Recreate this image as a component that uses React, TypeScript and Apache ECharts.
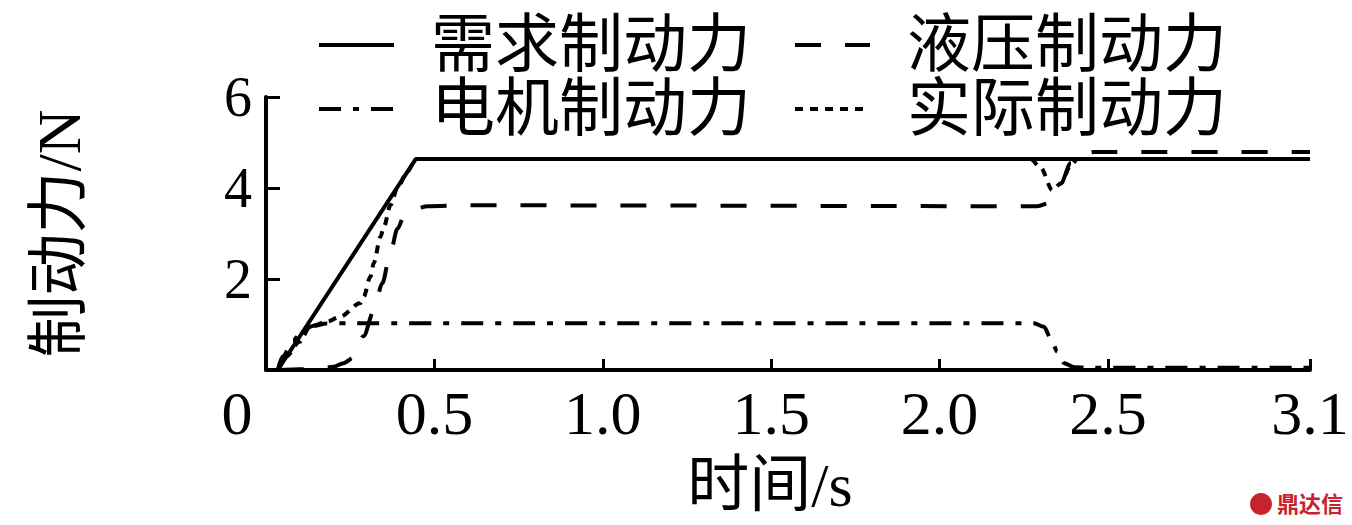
import React, { useEffect, useRef } from "react";
import * as echarts from "echarts";

const seriesNames = ["需求制动力", "液压制动力", "电机制动力", "实际制动力"];

const demandT = [0.035, 0.445, 3.1];
const demandV = [0, 4.64, 4.64];

const hydraulicT = [0.035, 0.15, 0.2, 0.23, 0.26, 0.29, 0.32, 0.345, 0.37, 0.39, 0.41, 0.44, 0.48, 0.6, 2.29, 2.33, 2.36, 2.39, 2.42, 2.46, 3.1];
const hydraulicV = [0, 0.02, 0.07, 0.15, 0.27, 0.75, 1.3, 1.9, 2.6, 3.1, 3.38, 3.54, 3.6, 3.62, 3.6, 3.68, 4.1, 4.55, 4.74, 4.79, 4.79];

const motorT = [0.035, 0.05, 0.08, 0.11, 0.14, 0.18, 0.25, 2.28, 2.31, 2.33, 2.35, 2.37, 2.4, 2.45, 3.1];
const motorV = [0, 0.3, 0.65, 0.87, 0.97, 1.02, 1.03, 1.03, 0.95, 0.7, 0.4, 0.15, 0.06, 0.05, 0.05];

const actualT = [0.035, 0.06, 0.1, 0.13, 0.18, 0.22, 0.28, 0.29, 0.31, 0.32, 0.34, 0.35, 0.37, 0.39, 0.42, 0.445, 2.27, 2.3, 2.335, 2.36, 2.39, 2.41, 3.1];
const actualV = [0, 0.3, 0.62, 0.95, 1.06, 1.17, 1.47, 1.61, 2.05, 2.35, 2.93, 3.15, 3.63, 4.0, 4.36, 4.64, 4.64, 4.45, 3.95, 4.1, 4.5, 4.64, 4.64];

const xLabelValues = [0, 0.5, 1.0, 1.5, 2.0, 2.5, 3.1];
const xTickValues = [0.5, 1.0, 1.5, 2.0, 2.5, 3.1];
const yLabelValues = [2, 4, 6];
const yTickValues = [2, 4, 6];

const zip = (t: number[], v: number[]) => t.map((x, i) => [x, v[i]]);

const serif = '"Liberation Serif", "Noto Sans CJK SC", serif';

export default function App() {
  const ref = useRef<HTMLDivElement>(null);
  useEffect(() => {
    if (!ref.current) return;
    const chart = echarts.init(ref.current, undefined, { renderer: "svg" });
    const styles: any[] = [
      { type: "solid", width: 4 },
      { type: [26, 24], width: 4 },
      { type: [22, 12, 6, 12], width: 4 },
      { type: [8, 7], width: 4 },
    ];
    const datas = [zip(demandT, demandV), zip(hydraulicT, hydraulicV), zip(motorT, motorV), zip(actualT, actualV)];
    const legendCommon = {
      left: 312,
      itemWidth: 75,
      itemHeight: 20,
      itemGap: 42,
      itemStyle: { opacity: 0, color: "transparent", borderWidth: 0 },
      lineStyle: { width: 4 },
      textStyle: { fontSize: 64, fontFamily: serif, color: "#000", padding: [0, 0, 0, 32] },
    };
    chart.setOption({
      animation: false,
      backgroundColor: "#fff",
      legend: [
        { ...legendCommon, top: 8, data: [seriesNames[0], seriesNames[1]] },
        { ...legendCommon, top: 72, data: [seriesNames[2], seriesNames[3]] },
      ],
      grid: { left: 266, right: 42, top: 97, bottom: 155, containLabel: false, outerBoundsMode: "none" },
      xAxis: {
        type: "value",
        min: 0,
        max: 3.1,
        name: "时间/s",
        nameLocation: "middle",
        nameGap: 84,
        nameTextStyle: { fontSize: 62, fontFamily: serif, color: "#000", padding: [0, 36, 0, 0] },
        axisLine: { lineStyle: { color: "#000", width: 4 } },
        axisTick: { inside: true, length: 11, lineStyle: { color: "#000", width: 3 }, customValues: xTickValues },
        axisLabel: {
          customValues: xLabelValues,
          margin: 12,
          fontSize: 62,
          fontFamily: serif,
          color: "#000",
          formatter: (v: number) => (v === 0 ? "{z|0}" : v.toFixed(1)),
          rich: { z: { fontSize: 62, fontFamily: serif, color: "#000", padding: [0, 58, 0, 0] } },
        },
        splitLine: { show: false },
      },
      yAxis: {
        type: "value",
        min: 0,
        max: 6,
        name: "制动力/N",
        nameLocation: "middle",
        nameGap: 176,
        nameTextStyle: { fontSize: 62, fontFamily: serif, color: "#000" },
        axisLine: { lineStyle: { color: "#000", width: 4 } },
        axisTick: { inside: true, length: 14, lineStyle: { color: "#000", width: 3 }, customValues: yTickValues },
        axisLabel: { customValues: yLabelValues, margin: 14, fontSize: 56, fontFamily: serif, color: "#000" },
        splitLine: { show: false },
      },
      series: seriesNames.map((n, i) => ({
        name: n,
        type: "line",
        data: datas[i],
        symbol: "none",
        showSymbol: false,
        smooth: i === 0 ? false : 0.3,
        smoothMonotone: "x",
        lineStyle: { color: "#000", ...styles[i] },
        itemStyle: { color: "#000" },
        z: 10 - i,
      })),
      graphic: [
        { type: "circle", left: 1250, top: 493, shape: { r: 11 }, style: { fill: "#c8232c" } },
        { type: "text", left: 1277, top: 491, style: { text: "鼎达信", fontSize: 22, fontWeight: "bold", fill: "#c8232c", fontFamily: '"Noto Sans CJK SC"' } },
      ],
    });
    return () => chart.dispose();
  }, []);
  return <div ref={ref} style={{ position: "fixed", left: 0, top: 0, width: 1352, height: 525 }} />;
}
